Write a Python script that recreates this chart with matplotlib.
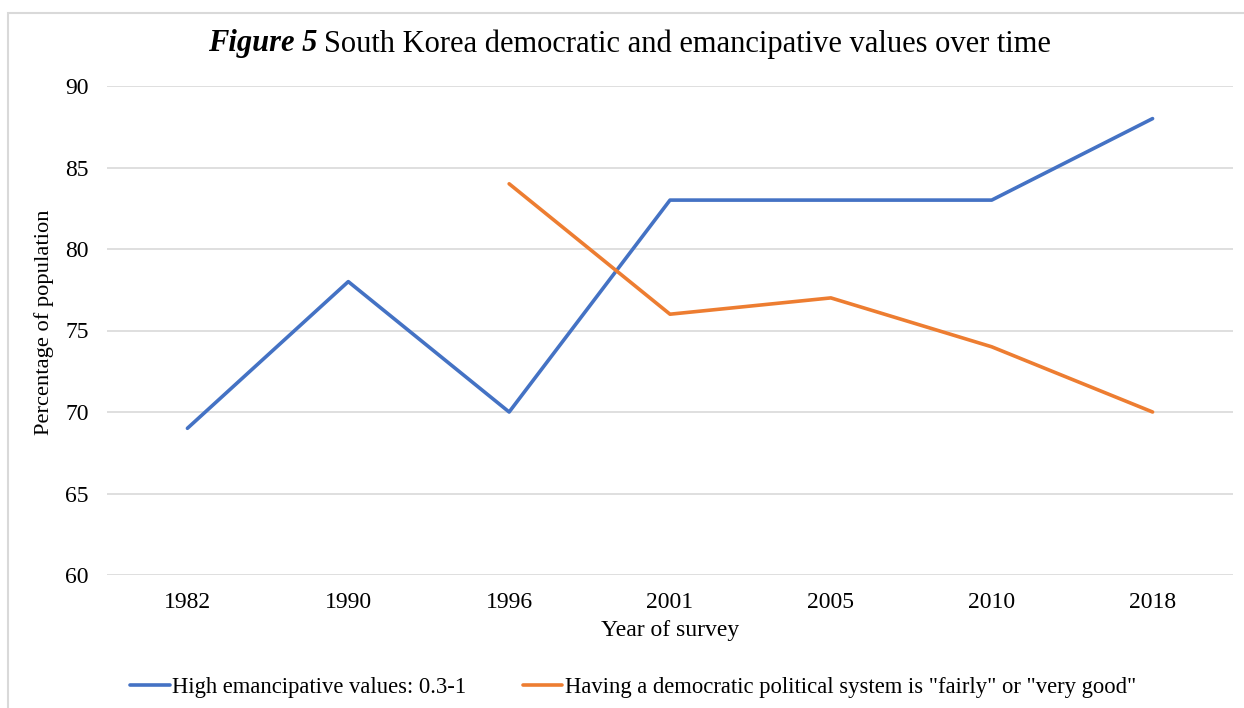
import matplotlib.pyplot as plt
import numpy as np
from matplotlib.patches import Rectangle

years = ["1982", "1990", "1996", "2001", "2005", "2010", "2018"]
emancipative = [69, 78, 70, 83, 83, 83, 88]
democratic = [np.nan, np.nan, 84, 76, 77, 74, 70]
y_ticks = [60, 65, 70, 75, 80, 85, 90]

plt.rcParams["font.family"] = ["Liberation Serif", "DejaVu Serif"]
FS = 17

fig = plt.figure(figsize=(12.44, 7.08), dpi=100)
W, H = 1244, 708
ax = fig.add_axes([107 / W, 1 - 575 / H, (1233 - 107) / W, (575 - 86) / H])

# light frame around the whole chart
fig.patches.append(Rectangle((8 / W, -0.05), 1.1, 1 - 13 / H + 0.05,
                             transform=fig.transFigure, fill=False,
                             edgecolor="#D9D9D9", linewidth=1.5))

x = np.arange(len(years))
ax.plot(x, emancipative, color="#4472C4", linewidth=2.6,
        solid_capstyle="round", label="High emancipative values: 0.3-1")
ax.plot(x, democratic, color="#ED7D31", linewidth=2.6,
        solid_capstyle="round",
        label='Having a democratic political system is "fairly" or "very good"')

ax.set_xlim(-0.5, len(years) - 0.5)
ax.set_ylim(60, 90)
ax.set_yticks(y_ticks)
ax.set_xticks(x)
ax.set_xticklabels(years)
ax.tick_params(axis="both", length=0, labelsize=FS, colors="black")
ax.tick_params(axis="y", pad=13)
ax.tick_params(axis="x", pad=12)
ax.grid(axis="y", color="#D9D9D9", linewidth=1.2)
ax.set_axisbelow(True)
for spine in ax.spines.values():
    spine.set_visible(False)

ax.set_xlabel("Year of survey", fontsize=FS, labelpad=5)
ax.set_ylabel("Percentage of population", fontsize=16.2)
ax.yaxis.set_label_coords(-(107 - 54) / (1233 - 107), 0.516)

# title: bold italic prefix followed by regular text
head = fig.text(208 / W, 1 - 44 / H, "Figure 5", fontsize=22,
                fontweight="bold", fontstyle="italic", ha="left", va="center")
fig.canvas.draw()
bb = head.get_window_extent().transformed(fig.transFigure.inverted())
fig.text(bb.x1 + 7 / W, 1 - 44 / H,
         "South Korea democratic and emancipative values over time",
         fontsize=22, ha="left", va="center")

fig.legend(loc="center", bbox_to_anchor=(633 / W, 1 - 687 / H), ncol=2,
           frameon=False, fontsize=16.3, handlelength=1.75, handletextpad=0.1,
           columnspacing=2.5)

fig.savefig("out.png", dpi=100)
